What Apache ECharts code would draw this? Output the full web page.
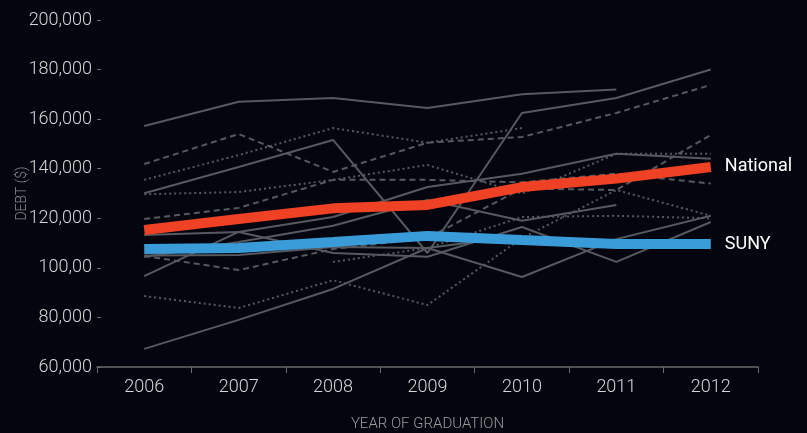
<!DOCTYPE html>
<html>
<head>
<meta charset="utf-8">
<script src="https://cdn.jsdelivr.net/npm/echarts@6/dist/echarts.min.js"></script>
<style>
  html, body { margin: 0; padding: 0; background: #03060e; }
  #chart { width: 807px; height: 433px; }
</style>
</head>
<body>
<div id="chart"></div>
<script>
// 横轴年份
const years = ['2006', '2007', '2008', '2009', '2010', '2011', '2012'];
// 纵轴刻度文字（原图 100,00 照抄）
const yTickLabels = ['60,000', '80,000', '100,00', '120,000', '140,000', '160,000', '180,000', '200,000'];

// 两条重点线
const national = [115300, 119700, 124000, 125400, 132600, 136000, 140700];
const suny = [107600, 108000, 110400, 112900, 111200, 109600, 109600];

// 背景灰线（各校）
const school1 = [157200, 167000, 168500, 164500, 170000, 172000, null];
const school2 = [130100, 140700, 151600, 106000, 162500, 168500, 180000];
const school3 = [141900, 154000, 138700, 150500, 152800, 162500, 173800];
const school4 = [135500, 145500, 156400, 150500, 156400, null, null];
const school5 = [129700, 130600, 135500, 141500, 130000, 146000, 146000];
const school6 = [119700, 124200, 135500, 135500, 134500, 138000, 134000];
const school7 = [113300, 114500, 106000, 104500, 116500, 102400, 118500];
const school8 = [96700, 114500, 120500, 132600, 138000, 146000, 144000];
const school9 = [104400, 110400, 117000, 127400, 119000, 125400, null];
const school10 = [105000, 105200, 108400, 108000, 113000, null, null];
const school11 = [104800, 99100, 107600, 112000, 132000, 131400, 153600];
const school12 = [null, null, 102400, 108000, 120500, 121000, 120000];
const school13 = [88600, 83800, 95000, 85000, 112000, 131400, 121000];
const school14 = [67300, 79000, 91500, 108000, 96300, 111600, 121000];

const schools = [school1, school2, school3, school4, school5, school6, school7,
                 school8, school9, school10, school11, school12, school13, school14];

// 线型：实线 / 虚线 / 点线
const SOLID = 'solid', DASH = [6, 4], DOT = [2, 3];
const schoolStyles = [SOLID, SOLID, DASH, DOT, DOT, DASH, SOLID,
                      SOLID, SOLID, SOLID, DASH, DOT, DOT, SOLID];

const FONT = 'Roboto, "Liberation Sans", sans-serif';

const chart = echarts.init(document.getElementById('chart'));

const graySeries = schools.map((d, i) => ({
    type: 'line',
    data: d,
    symbol: 'none',
    silent: true,
    lineStyle: { color: '#56595f', width: 2, type: schoolStyles[i] }
}));

const option = {
    backgroundColor: '#03060e',
    animation: false,
    grid: { left: 97, right: 49, top: 20, bottom: 66, containLabel: false, outerBoundsMode: 'none' },
    xAxis: {
        type: 'category',
        data: years,
        boundaryGap: true,
        name: 'YEAR OF GRADUATION',
        nameLocation: 'middle',
        nameGap: 50,
        nameMoveOverlap: false,
        nameTextStyle: { color: '#9a9a9a', fontSize: 15, fontWeight: 300, fontFamily: FONT, letterSpacing: 2 },
        axisLine: { lineStyle: { color: '#6a6a6a', width: 1.5 } },
        axisTick: { show: true, length: 6, lineStyle: { color: '#6a6a6a' } },
        axisLabel: { color: '#d6d6d6', fontSize: 18, fontWeight: 300, fontFamily: FONT, margin: 11 },
        splitLine: { show: false }
    },
    yAxis: {
        type: 'value',
        min: 60000,
        max: 200000,
        interval: 20000,
        name: 'DEBT ($)',
        nameLocation: 'middle',
        nameGap: 68,
        nameMoveOverlap: false,
        nameTextStyle: { color: '#8a8a8a', fontSize: 14, fontWeight: 300, fontFamily: FONT, letterSpacing: 2 },
        axisLine: { show: false },
        axisTick: { show: true, inside: true, length: 4, lineStyle: { color: '#6a6a6a' } },
        axisLabel: {
            color: '#d6d6d6', fontSize: 18, fontWeight: 300, fontFamily: FONT, margin: 5,
            formatter: function (v) { return yTickLabels[Math.round((v - 60000) / 20000)]; }
        },
        splitLine: { show: false }
    },
    series: graySeries.concat([
        {
            name: 'National',
            type: 'line',
            data: national,
            symbol: 'none',
            silent: true,
            lineStyle: { color: '#ef4123', width: 10 },
            endLabel: { show: true, formatter: '{a}', color: '#ffffff', fontSize: 18, fontFamily: FONT, distance: 14 }
        },
        {
            name: 'SUNY',
            type: 'line',
            data: suny,
            symbol: 'none',
            silent: true,
            lineStyle: { color: '#3a9bd9', width: 10 },
            endLabel: { show: true, formatter: '{a}', color: '#ffffff', fontSize: 18, fontFamily: FONT, distance: 14 }
        }
    ])
};

chart.setOption(option);
</script>
</body>
</html>
